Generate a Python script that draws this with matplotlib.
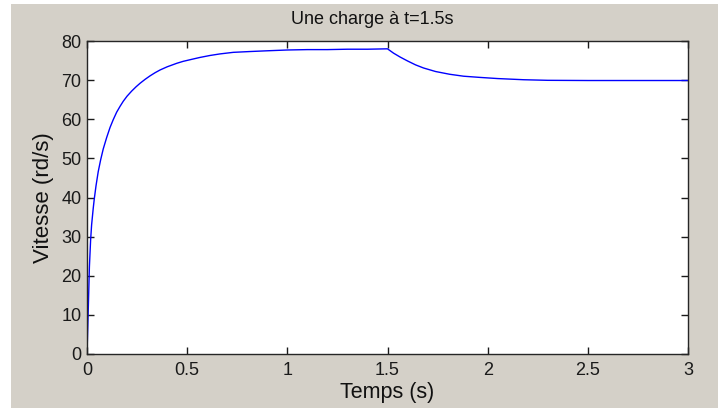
import matplotlib
matplotlib.use('Agg')
import matplotlib.pyplot as plt
from matplotlib.patches import Rectangle

plt.rcParams['font.family'] = ['Liberation Sans', 'DejaVu Sans']

# speed response: start-up, then load torque applied at t=1.5s
temps = [0, 0.004, 0.0067, 0.012, 0.018, 0.023, 0.031, 0.036, 0.045, 0.056,
         0.068, 0.081, 0.098, 0.115, 0.131, 0.148, 0.165, 0.181, 0.2, 0.223,
         0.245, 0.265, 0.29, 0.315, 0.34, 0.365, 0.4, 0.448, 0.48, 0.53,
         0.564, 0.614, 0.664, 0.73, 0.81, 0.9, 1.0, 1.1, 1.2, 1.3, 1.4, 1.5,
         1.53, 1.563, 1.6, 1.64, 1.68, 1.74, 1.81, 1.88, 1.96, 2.05, 2.18,
         2.3, 2.5, 2.7, 2.9, 3.0]
vitesse = [0, 7, 12.1, 22.3, 29.1, 33.0, 37.2, 39.5, 43.0, 46.6,
           49.6, 52.4, 55.3, 57.9, 59.9, 61.8, 63.3, 64.6, 65.9, 67.2,
           68.3, 69.2, 70.2, 71.1, 71.9, 72.6, 73.4, 74.3, 74.8, 75.4,
           75.8, 76.3, 76.7, 77.1, 77.3, 77.5, 77.7, 77.8, 77.8, 77.9, 77.9, 78.0,
           76.9, 75.9, 74.9, 73.9, 73.1, 72.2, 71.5, 71.0, 70.7, 70.4, 70.1,
           69.95, 69.9, 69.9, 69.9, 69.9]

xticks = [0, 0.5, 1, 1.5, 2, 2.5, 3]
xticklabels = ['0', '0.5', '1', '1.5', '2', '2.5', '3']
yticks = [0, 10, 20, 30, 40, 50, 60, 70, 80]

fig = plt.figure(figsize=(7.18, 4.08), dpi=100, facecolor='white')
# grey window background, leaving a thin white strip top and left
fig.add_artist(Rectangle((11 / 718, 0), 707 / 718, 404 / 408,
                         transform=fig.transFigure, facecolor='#d4d0c8',
                         edgecolor='none', zorder=-10))

ax = fig.add_axes([87 / 718, 54 / 408, 601 / 718, 313 / 408])
ax.set_zorder(1)
ax.plot(temps, vitesse, color='#0000ff', linewidth=1.0)

ax.set_xlim(0, 3)
ax.set_ylim(0, 80)
ax.set_xticks(xticks)
ax.set_xticklabels(xticklabels)
ax.set_yticks(yticks)
ax.tick_params(direction='in', length=5, width=1, top=True, right=True,
               labelsize=13, colors='#1a1a1a')
ax.tick_params(axis='x', pad=6)
ax.tick_params(axis='y', pad=4)
for s in ax.spines.values():
    s.set_color('#262626')
    s.set_linewidth(1)

ax.set_title('Une charge à t=1.5s', fontsize=13, pad=12, x=0.474,
             color='#111111')
ax.set_xlabel('Temps (s)', fontsize=15.5, labelpad=2, color='#111111')
ax.set_ylabel('Vitesse (rd/s)', fontsize=16, labelpad=5, color='#111111')

fig.savefig('out.png', dpi=100, facecolor=fig.get_facecolor())
